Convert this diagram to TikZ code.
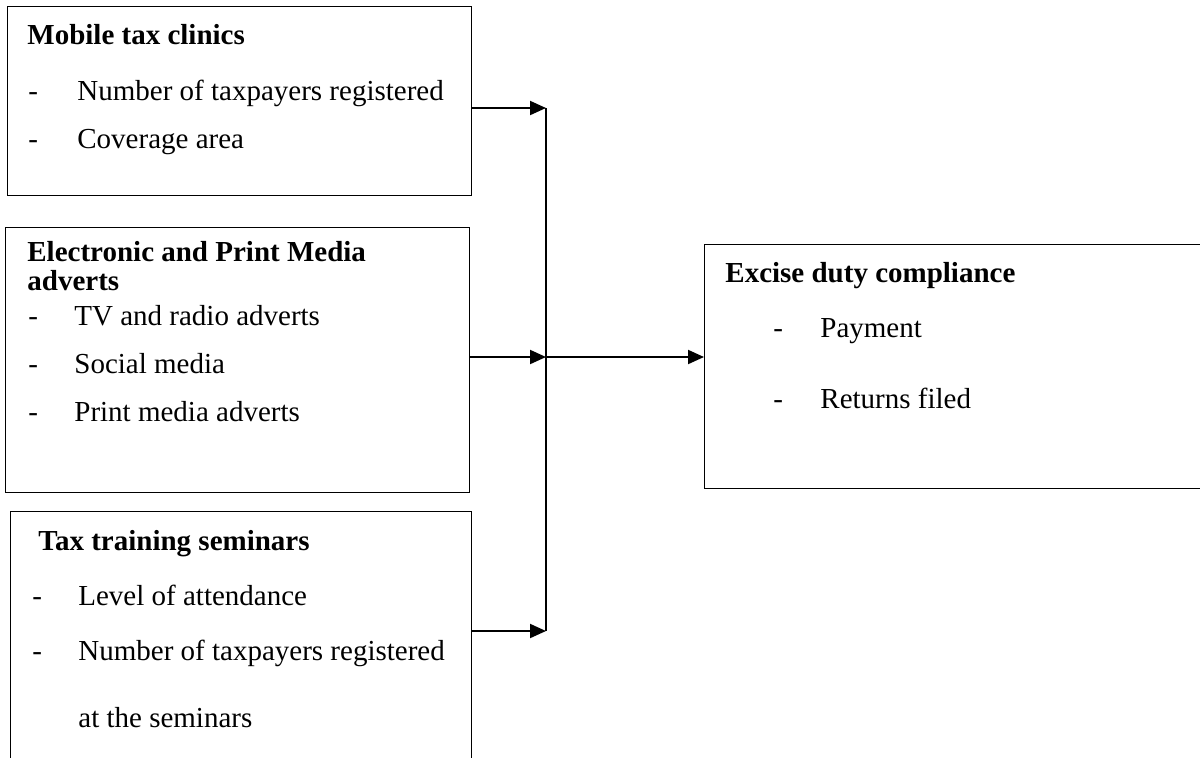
\documentclass[tikz,border=0pt]{standalone}
\usepackage{fontspec}
\setmainfont{Liberation Serif}
\usetikzlibrary{arrows.meta}
\tikzset{
	box/.style={draw,line width=0.6pt,inner sep=0pt,anchor=north west},
	head/.style={font=\fontsize{14.5}{17}\selectfont\bfseries,anchor=base west,inner sep=0pt},
	item/.style={font=\fontsize{14.5}{17}\selectfont,anchor=base west,inner sep=0pt},
	link/.style={line width=1pt,-{Triangle[length=8pt,width=7pt]}}
}
\begin{document}
\begin{tikzpicture}[x=0.5pt,y=-0.5pt]
	\useasboundingbox (0,0) rectangle (1200,757);
	% boxes
	\node (mobile) at (7,6) [box,minimum width=232pt,minimum height=94.5pt] {};
	\node (media) at (5,227) [box,minimum width=232pt,minimum height=132.5pt] {};
	\node (seminar) at (10,511) [box,minimum width=230.5pt,minimum height=134.5pt] {};
	\node (compliance) at (704,244) [box,minimum width=255.5pt,minimum height=122pt] {};
	% texts
	\path node (mobileT) at (27,44) [head] {Mobile tax clinics}
	node (mobileD1) at (28,100) [item] {-}
	node (mobileA) at (77,100) [item] {Number of taxpayers registered}
	node (mobileD2) at (28,148) [item] {-}
	node (mobileB) at (77,148) [item] {Coverage area};
	\path node (mediaT) at (27,261) [head] {Electronic and Print Media}
	node (mediaT2) at (27,290) [head] {adverts}
	node (mediaD1) at (28,325) [item] {-}
	node (mediaA) at (74,325) [item] {TV and radio adverts}
	node (mediaD2) at (28,373) [item] {-}
	node (mediaB) at (74,373) [item] {Social media}
	node (mediaD3) at (28,421) [item] {-}
	node (mediaC) at (74,421) [item] {Print media adverts};
	\path node (seminarT) at (38,550) [head] {Tax training seminars}
	node (seminarD1) at (32,605) [item] {-}
	node (seminarA) at (78,605) [item] {Level of attendance}
	node (seminarD2) at (32,660) [item] {-}
	node (seminarB) at (78,660) [item] {Number of taxpayers registered}
	node (seminarC) at (78,727) [item] {at the seminars};
	\path node (complianceT) at (725,282) [head] {Excise duty compliance}
	node (complianceD1) at (773,337) [item] {-}
	node (complianceA) at (820,337) [item] {Payment}
	node (complianceD2) at (773,408) [item] {-}
	node (complianceB) at (820,408) [item] {Returns filed};
	% connectors
	\coordinate (j1) at (546,108);
	\coordinate (j2) at (546,357);
	\coordinate (j3) at (546,631);
	\draw[line width=1pt] (j1) -- (j3);
	\draw[link] (mobile.east |- j1) -- (j1);
	\draw[link] (media.east |- j2) -- (j2);
	\draw[link] (seminar.east |- j3) -- (j3);
	\draw[link] (j2) -- (compliance.west |- j2);
\end{tikzpicture}
\end{document}
